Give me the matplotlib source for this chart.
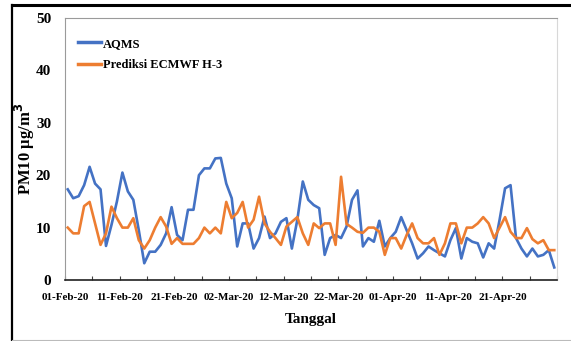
import matplotlib
matplotlib.use("Agg")
import matplotlib.pyplot as plt
import matplotlib.dates as mdates
from matplotlib.lines import Line2D
import pandas as pd

# Daily PM10 concentrations (µg/m³), 01-Feb-2020 .. 30-Apr-2020
aqms = [17.3, 15.6, 16.0, 18.1, 21.6, 18.4, 17.3, 6.5, 10.5, 15.0,
        20.5, 16.9, 15.3, 9.5, 3.2, 5.4, 5.4, 6.7, 8.9, 13.9,
        8.6, 7.6, 13.4, 13.4, 20.0, 21.3, 21.3, 23.2, 23.3, 18.4,
        15.6, 6.4, 10.8, 10.8, 6.0, 8.0, 12.1, 8.0, 8.9, 11.1,
        11.8, 6.0, 11.5, 18.8, 15.3, 14.3, 13.7, 4.8, 8.0, 8.6,
        8.0, 10.2, 15.3, 17.1, 6.4, 8.0, 7.3, 11.3, 6.4, 8.0,
        9.2, 12.0, 9.5, 7.0, 4.1, 5.1, 6.4, 5.7, 5.1, 4.5,
        7.6, 9.9, 4.1, 8.0, 7.3, 7.0, 4.3, 7.0, 6.0, 11.5,
        17.5, 18.1, 8.0, 6.0, 4.5, 6.0, 4.5, 4.8, 5.7, 2.4]

ecmwf_h3 = [10.0, 8.9, 8.9, 14.1, 14.9, 10.8, 6.7, 8.9, 14.0, 11.8,
            10.0, 10.0, 11.8, 7.6, 6.0, 7.6, 10.0, 12.0, 10.2, 6.9,
            8.0, 6.9, 6.9, 6.9, 8.0, 10.0, 8.9, 10.0, 8.9, 14.9,
            11.8, 12.8, 14.9, 10.0, 11.5, 15.9, 10.8, 9.2, 8.0, 6.7,
            10.2, 11.1, 12.0, 8.9, 6.7, 10.8, 9.9, 10.8, 10.8, 6.7,
            19.7, 10.7, 10.0, 9.2, 9.0, 10.0, 10.0, 9.2, 4.8, 8.0,
            8.0, 6.0, 8.6, 10.8, 8.0, 7.0, 7.0, 8.0, 4.8, 7.0,
            10.8, 10.8, 7.0, 10.0, 10.0, 10.8, 12.0, 10.8, 8.0, 10.0,
            12.0, 9.2, 8.0, 8.0, 9.9, 7.8, 7.0, 7.6, 5.7, 5.7]

series_labels = ["AQMS", "Prediksi ECMWF H-3"]
start_date = "2020-02-01"
end_date = "2020-05-01"
y_ticks = [0, 10, 20, 30, 40, 50]

dates = pd.date_range(start_date, periods=len(aqms), freq="D")
x = mdates.date2num(dates) + 0.5

serif = "Liberation Serif"
plt.rcParams["font.family"] = serif
plt.rcParams["font.weight"] = "bold"

fig = plt.figure(figsize=(5.71, 3.41), dpi=100)
ax = fig.add_axes([65 / 571, 1 - 280 / 341, 492 / 571, 262 / 341])

blue = "#4472C4"
orange = "#ED7D31"
ax.plot(x, aqms, color=blue, lw=1.9, label=series_labels[0], solid_joinstyle="round")
ax.plot(x, ecmwf_h3, color=orange, lw=1.9, label=series_labels[1], solid_joinstyle="round")

x0 = mdates.date2num(pd.Timestamp(start_date))
x1 = mdates.date2num(pd.Timestamp(end_date))
ax.set_xlim(x0, x1)
ax.set_ylim(0, 50)
ax.set_yticks(y_ticks)
ax.set_yticklabels([str(v) for v in y_ticks], fontsize=11, fontweight="bold")

major = pd.date_range(start_date, end_date, freq="10D")[:-1]
minor = pd.date_range(start_date, end_date, freq="5D")
ax.set_xticks(mdates.date2num(major))
ax.set_xticklabels([d.strftime("%d-%b-%y") for d in major], fontsize=8, fontweight="bold")
ax.set_xticks(mdates.date2num(minor), minor=True)

ax.tick_params(axis="y", length=0, pad=10)
ax.tick_params(axis="x", which="both", direction="in", length=3, width=0.8,
               color="#404040", pad=9)

for side in ["top", "right", "left"]:
    ax.spines[side].set_color("#9a9a9a")
    ax.spines[side].set_linewidth(0.8)
ax.spines["right"].set_color("#d8d8d8")
ax.spines["bottom"].set_color("#202020")
ax.spines["bottom"].set_linewidth(1.2)

ax.set_ylabel("PM10 µg/m$^\\mathbf{3}$", fontsize=12, fontweight="bold")
ax.yaxis.set_label_coords(-0.056, 0.5)
ax.set_xlabel("Tanggal", fontsize=11, fontweight="bold", labelpad=8)

leg = ax.legend(loc="upper left", bbox_to_anchor=(0.027, 0.925), frameon=False,
                prop={"family": serif, "weight": "bold", "size": 9},
                handlelength=1.8, handletextpad=0.15, labelspacing=0.75,
                borderaxespad=0, borderpad=0)
for h in leg.get_lines():
    h.set_linewidth(2.5)

# outer frame: thick black on left and top, thin grey at the bottom
fig.add_artist(Line2D([12 / 571, 12 / 571], [0, 1 - 5 / 341], color="black",
                      lw=1.6, transform=fig.transFigure))
fig.add_artist(Line2D([12 / 571, 1], [1 - 5 / 341, 1 - 5 / 341], color="black",
                      lw=2.2, transform=fig.transFigure))
fig.add_artist(Line2D([12 / 571, 1], [1 / 341, 1 / 341], color="#bbbbbb",
                      lw=0.8, transform=fig.transFigure))

fig.savefig("out.png", dpi=100)
